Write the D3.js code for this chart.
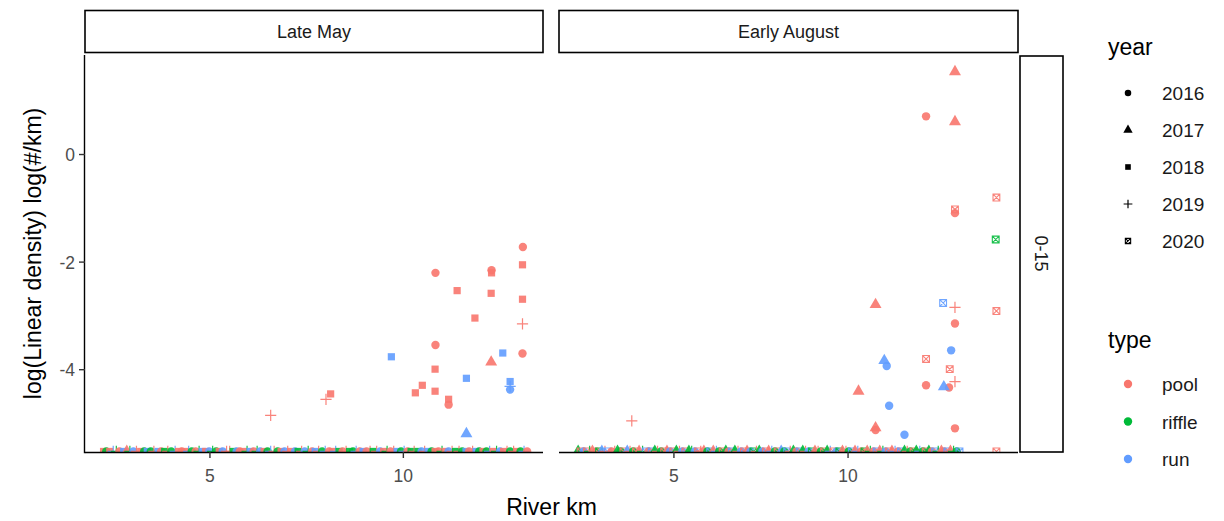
<!DOCTYPE html>
<html>
<head>
<meta charset="utf-8">
<script src="https://cdn.jsdelivr.net/npm/d3@7"></script>
<style>
  body { margin: 0; background: #fff; }
  text { font-family: "Liberation Sans", Arial, sans-serif; }
</style>
</head>
<body>
<div id="chart"></div>
<script>
var w = 1224, h = 521;

// facets and legend keys
var seasons = ["Late May", "Early August"];
var depthLabel = "0-15";
var years = ["2016", "2017", "2018", "2019", "2020"];
var types = ["pool", "riffle", "run"];
var typeColors = ["#F8766D", "#00BA38", "#619CFF"];
var xTicks = [5, 10];
var yTicks = [0, -2, -4];

// non-zero observations: [river km, log density], per season / type / year
var mayPool2016 = [[10.83, -2.20], [13.09, -1.72], [12.28, -2.15], [10.83, -3.54], [13.08, -3.70], [11.17, -4.65]];
var mayPool2017 = [[12.27, -3.86]];
var mayPool2018 = [[11.39, -2.53], [12.27, -2.58], [13.08, -2.05], [13.08, -2.69], [11.85, -3.04], [10.82, -3.99],
                   [10.49, -4.29], [10.31, -4.43], [10.82, -4.40], [11.17, -4.55], [8.12, -4.45], [12.28, -2.20]];
var mayPool2019 = [[13.08, -3.15], [8.0, -4.55], [6.57, -4.85]];
var mayRun2016 = [[12.76, -4.37]];
var mayRun2017 = [[11.63, -5.19]];
var mayRun2018 = [[9.69, -3.76], [12.57, -3.69], [11.63, -4.16], [12.76, -4.22]];
var mayRun2019 = [[12.76, -4.31]];

var augPool2016 = [[12.24, 0.71], [13.07, -1.09], [13.07, -3.14], [12.24, -4.29], [12.9, -4.33], [10.79, -5.12], [13.07, -5.09]];
var augPool2017 = [[13.07, 1.54], [13.07, 0.61], [10.79, -2.79], [10.3, -4.40], [10.79, -5.08]];
var augPool2019 = [[13.07, -2.84], [13.07, -4.22], [3.79, -4.95]];
var augPool2020 = [[14.26, -0.80], [13.07, -1.02], [14.26, -2.91], [12.24, -3.80], [12.92, -3.99], [14.26, -5.52]];
var augRiffle2020 = [[14.24, -1.58]];
var augRun2016 = [[12.96, -3.64], [11.11, -3.93], [11.18, -4.67], [11.62, -5.21]];
var augRun2017 = [[11.04, -3.83], [12.75, -4.32]];
var augRun2020 = [[12.73, -2.76]];

// zero-catch sites (drawn at the floor value)
var zeroValue = -5.52;
var zeroKm = [2.25, 2.32, 2.41, 2.5, 2.58, 2.66, 2.77, 2.85, 2.93, 3.02, 3.1, 3.21, 3.3, 3.38, 3.47, 3.55, 3.66, 3.74, 3.83, 3.91,
  4.0, 4.1, 4.19, 4.27, 4.36, 4.45, 4.53, 4.63, 4.72, 4.8, 4.89, 4.98, 5.07, 5.16, 5.24, 5.33, 5.43, 5.51, 5.6, 5.69,
  5.77, 5.86, 5.96, 6.04, 6.13, 6.22, 6.3, 6.4, 6.49, 6.57, 6.66, 6.75, 6.84, 6.93, 7.01, 7.1, 7.2, 7.28, 7.37, 7.45,
  7.54, 7.64, 7.72, 7.81, 7.9, 7.98, 8.08, 8.17, 8.25, 8.34, 8.43, 8.52, 8.61, 8.7, 8.78, 8.87, 8.96, 9.05, 9.14, 9.22,
  9.31, 9.4, 9.49, 9.58, 9.67, 9.75, 9.84, 9.94, 10.02, 10.11, 10.2, 10.28, 10.38, 10.47, 10.55, 10.64, 10.73, 10.82, 10.91, 11.0,
  11.08, 11.17, 11.26, 11.35, 11.44, 11.52, 11.62, 11.7, 11.79, 11.88, 11.96, 12.06, 12.15, 12.23, 12.32, 12.41, 12.5, 12.59, 12.68, 12.76,
  12.85, 12.94, 13.03, 13.12, 13.2];
// p = pool, r = riffle, u = run ; year digit 6..0 = 2016..2020
var zeroTypeMay = "prpurpuprupprurpuprprupppurprupurrpuppruppruprupruprpuppurpurpupruppurpprrupupprpuprppuruprprupurpprpuprpruppurpruprupprpprupp";
var zeroYearMay = "86899687969868698689698689669886968699866898696869968698689696896968986986968698968969869689869868698698968698686989689698696869896";
var zeroTypeAug = "rpuprpprupupprrpuprpprupurprppuprpuprruppprupurprpurpuppurpruppurpuruprpurpurpprprupurpprupuprprpupruppupurprprurprpurppuprrupprupprupur";
var zeroYearAug = "70609760790697607960790607960760796079609760796076079607609760796076097607960796079060796079607960796079607960796076097607960796076079607960";

var panelsX = [[85, 543], [559, 1018]];
var panelTop = 55, panelBottom = 452;

var x = [
  d3.scaleLinear().domain([1.77, 13.61]).range(panelsX[0]),
  d3.scaleLinear().domain([1.70, 14.88]).range(panelsX[1])
];
var y = d3.scaleLinear().domain([-5.53, 1.85]).range([panelBottom, panelTop]);

function addSeries(list, arr, panel, type, year) {
  arr.forEach(function(p) {
    list.push({ panel: panel, km: p[0], v: p[1], type: type, year: year });
  });
}
function addZeros(list, panel, typeStr, yearStr) {
  var tmap = { p: 0, r: 1, u: 2 };
  var ymap = { "6": 0, "7": 1, "8": 2, "9": 3, "0": 4 };
  zeroKm.forEach(function(km, i) {
    var t = typeStr.charAt(i), yr = yearStr.charAt(i);
    if (!t || !yr) return;
    list.push({ panel: panel, km: km, v: zeroValue, type: tmap[t], year: ymap[yr] });
  });
}

var points = [];
addZeros(points, 0, zeroTypeMay, zeroYearMay);
addZeros(points, 1, zeroTypeAug, zeroYearAug);
addSeries(points, mayPool2016, 0, 0, 0);
addSeries(points, mayPool2017, 0, 0, 1);
addSeries(points, mayPool2018, 0, 0, 2);
addSeries(points, mayPool2019, 0, 0, 3);
addSeries(points, mayRun2016, 0, 2, 0);
addSeries(points, mayRun2017, 0, 2, 1);
addSeries(points, mayRun2018, 0, 2, 2);
addSeries(points, mayRun2019, 0, 2, 3);
addSeries(points, augPool2016, 1, 0, 0);
addSeries(points, augPool2017, 1, 0, 1);
addSeries(points, augPool2019, 1, 0, 3);
addSeries(points, augPool2020, 1, 0, 4);
addSeries(points, augRiffle2020, 1, 1, 4);
addSeries(points, augRun2016, 1, 2, 0);
addSeries(points, augRun2017, 1, 2, 1);
addSeries(points, augRun2020, 1, 2, 4);

var svg = d3.select("#chart").append("svg")
  .attr("width", w)
  .attr("height", h);

// clip each panel
panelsX.forEach(function(px, i) {
  svg.append("clipPath").attr("id", "clip" + i)
    .append("rect")
    .attr("x", px[0]).attr("y", panelTop)
    .attr("width", px[1] - px[0]).attr("height", panelBottom - panelTop);
});

// draw one marker in group g, scale k
function marker(g, year, color, k) {
  if (year === 0) {
    g.append("circle").attr("r", 4.2 * k).attr("fill", color);
  } else if (year === 1) {
    g.append("path").attr("d", d3.symbol().type(d3.symbolTriangle).size(62 * k * k)()).attr("fill", color);
  } else if (year === 2) {
    g.append("rect").attr("x", -3.6 * k).attr("y", -3.6 * k).attr("width", 7.2 * k).attr("height", 7.2 * k).attr("fill", color);
  } else if (year === 3) {
    var s = 5.6 * k;
    g.append("path").attr("d", "M" + (-s) + ",0H" + s + "M0," + (-s) + "V" + s)
      .attr("stroke", color).attr("stroke-width", 1.2).attr("fill", "none");
  } else {
    var b = 3.4 * k;
    g.append("path")
      .attr("d", "M" + (-b) + "," + (-b) + "H" + b + "V" + b + "H" + (-b) + "Z" +
        "M" + (-b) + "," + (-b) + "L" + b + "," + b + "M" + b + "," + (-b) + "L" + (-b) + "," + b)
      .attr("stroke", color).attr("stroke-width", 1.1).attr("fill", "none");
  }
}

[0, 1].forEach(function(pi) {
  var layer = svg.append("g").attr("clip-path", "url(#clip" + pi + ")");
  points.filter(function(d) { return d.panel === pi; }).forEach(function(d) {
    var g = layer.append("g")
      .attr("transform", "translate(" + x[pi](d.km) + "," + y(d.v) + ")")
      .attr("opacity", 0.9);
    marker(g, d.year, typeColors[d.type], 1);
  });
});

// axes
var axisColor = "#000", tickLabelColor = "#4D4D4D";
panelsX.forEach(function(px, i) {
  svg.append("line")
    .attr("x1", px[0]).attr("x2", px[1])
    .attr("y1", panelBottom + 0.5).attr("y2", panelBottom + 0.5)
    .attr("stroke", axisColor).attr("stroke-width", 1.4);
  xTicks.forEach(function(t) {
    var xx = x[i](t);
    svg.append("line").attr("x1", xx).attr("x2", xx)
      .attr("y1", panelBottom).attr("y2", panelBottom + 6)
      .attr("stroke", "#333").attr("stroke-width", 1.4);
    svg.append("text").attr("x", xx).attr("y", panelBottom + 30)
      .attr("text-anchor", "middle").attr("font-size", 17.5).attr("fill", tickLabelColor)
      .text(t);
  });
});

svg.append("line")
  .attr("x1", panelsX[0][0] - 0.5).attr("x2", panelsX[0][0] - 0.5)
  .attr("y1", panelTop).attr("y2", panelBottom + 1.2)
  .attr("stroke", axisColor).attr("stroke-width", 1.4);
yTicks.forEach(function(t) {
  var yy = y(t);
  svg.append("line").attr("x1", panelsX[0][0] - 6).attr("x2", panelsX[0][0])
    .attr("y1", yy).attr("y2", yy).attr("stroke", "#333").attr("stroke-width", 1.4);
  svg.append("text").attr("x", panelsX[0][0] - 10).attr("y", yy + 6.5)
    .attr("text-anchor", "end").attr("font-size", 17.5).attr("fill", tickLabelColor)
    .text(t === 0 ? "0" : "-" + Math.abs(t));
});

// strips
seasons.forEach(function(s, i) {
  var px = panelsX[i];
  svg.append("rect").attr("x", px[0]).attr("y", 10.5)
    .attr("width", px[1] - px[0]).attr("height", 42)
    .attr("fill", "#fff").attr("stroke", "#000").attr("stroke-width", 1.6);
  svg.append("text").attr("x", (px[0] + px[1]) / 2).attr("y", 38)
    .attr("text-anchor", "middle").attr("font-size", 18).attr("fill", "#1A1A1A")
    .text(s);
});
svg.append("rect").attr("x", 1020).attr("y", panelTop + 1)
  .attr("width", 43).attr("height", panelBottom - panelTop - 1)
  .attr("fill", "#fff").attr("stroke", "#000").attr("stroke-width", 1.6);
svg.append("text")
  .attr("transform", "translate(1035," + ((panelTop + panelBottom) / 2) + ") rotate(90)")
  .attr("text-anchor", "middle").attr("font-size", 18).attr("fill", "#1A1A1A")
  .text(depthLabel);

// axis titles
svg.append("text").attr("x", (panelsX[0][0] + panelsX[1][1]) / 2).attr("y", 515)
  .attr("text-anchor", "middle").attr("font-size", 23).attr("fill", "#000")
  .text("River km");
svg.append("text")
  .attr("transform", "translate(41," + ((panelTop + panelBottom) / 2) + ") rotate(-90)")
  .attr("text-anchor", "middle").attr("font-size", 23).attr("fill", "#000")
  .text("log(Linear density) log(#/km)");

// legends
var lx = 1108;
svg.append("text").attr("x", lx).attr("y", 55).attr("font-size", 23).text("year");
years.forEach(function(yr, i) {
  var cy = 93 + i * 37;
  var g = svg.append("g").attr("transform", "translate(1128," + cy + ")");
  marker(g, i, "#000", 0.78);
  svg.append("text").attr("x", 1162).attr("y", cy + 7).attr("font-size", 19).attr("fill", "#1A1A1A").text(yr);
});
svg.append("text").attr("x", lx).attr("y", 348).attr("font-size", 23).text("type");
types.forEach(function(t, i) {
  var cy = 384 + i * 37.5;
  svg.append("circle").attr("cx", 1128).attr("cy", cy).attr("r", 4.2).attr("fill", typeColors[i]);
  svg.append("text").attr("x", 1162).attr("y", cy + 7).attr("font-size", 19).attr("fill", "#1A1A1A").text(t);
});
</script>
</body>
</html>
